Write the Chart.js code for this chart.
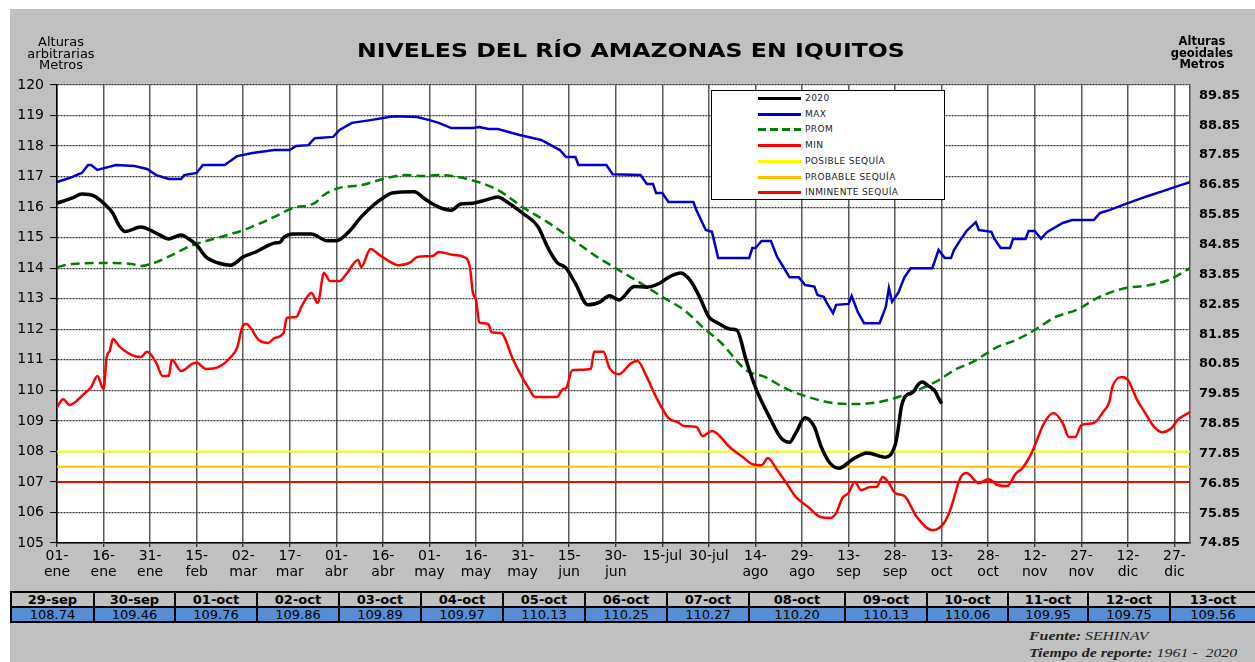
<!DOCTYPE html>
<html>
<head>
<meta charset="utf-8">
<script src="https://cdn.jsdelivr.net/npm/chart.js@4.4.0/dist/chart.umd.min.js"></script>
<style>
  body { margin: 0; background: #fff; width: 1255px; height: 662px; overflow: hidden; font-family: "DejaVu Sans", Arial, sans-serif; }
  #marco { position: absolute; left: 10px; top: 9px; width: 1245px; height: 653px; background: #c0c0c0; }
  #area { position: absolute; left: 57px; top: 85px; width: 1133px; height: 458px; background: #fff; }
  #grafico { position: absolute; left: 0; top: 0; }
  #titulo { position: absolute; left: 4px; width: 1255px; top: 40px; text-align: center; font-weight: bold; font-size: 20px; line-height: 20px; white-space: nowrap; transform: scaleX(1.18); transform-origin: 631px 0; }
  #ejeIzq { position: absolute; left: 0; width: 122px; top: 36px; text-align: center; font-size: 13px; line-height: 11.5px; }
  #ejeDer { position: absolute; left: 1152px; width: 100px; top: 36px; text-align: center; font-size: 11.5px; line-height: 11.5px; font-weight: bold; }
  #leyenda { position: absolute; left: 711px; top: 90px; width: 232px; height: 108px; background: #fff; border: 1px solid #000; }
  #leyenda .fila { position: absolute; left: 0; height: 12px; width: 232px; }
  #leyenda .linea { position: absolute; left: 46px; top: 5px; width: 43px; height: 3px; }
  #leyenda .texto { position: absolute; left: 93px; top: 0; font-size: 9px; line-height: 12px; letter-spacing: 0.4px; white-space: nowrap; color: #222; }
  #tabla { position: absolute; left: 10px; top: 591px; border-collapse: collapse; table-layout: fixed; }
  #tabla td { border: 2px solid #000; padding: 0; text-align: center; font-size: 13px; height: 13px; line-height: 13px; overflow: hidden; white-space: nowrap; }
  #tabla tr.fechas td { font-weight: bold; background: #c0c0c0; }
  #tabla tr.valores td { background: #558ed5; }
  #fuente { position: absolute; left: 1029px; top: 627px; font-family: "Liberation Serif", "Times New Roman", serif; font-style: italic; font-size: 13px; line-height: 17px; white-space: nowrap; color: #222; transform: scaleX(1.22); transform-origin: 0 0; }
</style>
</head>
<body>
<div id="marco"></div>
<div id="area"></div>
<canvas id="grafico" width="1255" height="590"></canvas>
<div id="titulo">NIVELES DEL RÍO AMAZONAS EN IQUITOS</div>
<div id="ejeIzq">Alturas<br>arbitrarias<br>Metros</div>
<div id="ejeDer">Alturas<br>geoidales<br>Metros</div>
<div id="leyenda"></div>
<table id="tabla"></table>
<div id="fuente"><b>Fuente:</b> SEHINAV<br><b>Tiempo de reporte:</b> 1961 -&nbsp; 2020</div>

<script>
// dias desde el 01-ene (0) hasta el 31-dic (365)
const diasX = [0, 15, 30, 45, 60, 75, 90, 105, 120, 135, 150, 165, 180, 195, 210, 225, 240, 255, 270, 285, 300, 315, 330, 345, 360];
const etiquetasX = [
  ["01-", "ene"], ["16-", "ene"], ["31-", "ene"], ["15-", "feb"], ["02-", "mar"], ["17-", "mar"], ["01-", "abr"],
  ["16-", "abr"], ["01-", "may"], ["16-", "may"], ["31-", "may"], ["15-", "jun"], ["30-", "jun"], "15-jul", "30-jul",
  ["14-", "ago"], ["29-", "ago"], ["13-", "sep"], ["28-", "sep"], ["13-", "oct"], ["28-", "oct"], ["12-", "nov"],
  ["27-", "nov"], ["12-", "dic"], ["27-", "dic"]
];
const etiquetasGeo = ["74.85", "75.85", "76.85", "77.85", "78.85", "79.85", "80.85", "81.85", "82.85", "83.85", "84.85", "85.85", "86.85", "87.85", "88.85", "89.85"];

// ultimos 15 dias (tabla inferior)
const tablaFechas = ["29-sep", "30-sep", "01-oct", "02-oct", "03-oct", "04-oct", "05-oct", "06-oct", "07-oct", "08-oct", "09-oct", "10-oct", "11-oct", "12-oct", "13-oct"];
const tablaDias = [271, 272, 273, 274, 275, 276, 277, 278, 279, 280, 281, 282, 283, 284, 285];
const tablaNiveles = [108.74, 109.46, 109.76, 109.86, 109.89, 109.97, 110.13, 110.25, 110.27, 110.20, 110.13, 110.06, 109.95, 109.75, 109.56];

// 2020
const dias2020 = [0, 5, 8, 12, 15, 18, 20, 22, 27, 30, 33, 36, 40, 42, 45, 48, 52, 56, 60, 64, 70, 72, 73, 76, 82, 87, 90, 94, 98, 102, 105, 108, 115, 119, 123, 127, 130, 134, 138, 142, 145, 150, 155, 158, 161, 164, 167, 171, 175, 178, 181, 186, 190, 194, 197, 201, 204, 207, 210, 213, 217, 219, 222, 225, 230, 233, 236, 238, 241, 244, 246, 249, 252, 256, 261, 267, 270];
const niveles2020 = [116.13, 116.30, 116.43, 116.36, 116.13, 115.80, 115.40, 115.20, 115.35, 115.25, 115.09, 114.96, 115.09, 114.99, 114.76, 114.37, 114.17, 114.10, 114.37, 114.53, 114.82, 114.86, 115.00, 115.12, 115.12, 114.90, 114.90, 115.19, 115.68, 116.07, 116.30, 116.46, 116.50, 116.23, 116.00, 115.90, 116.10, 116.13, 116.23, 116.33, 116.17, 115.80, 115.35, 114.70, 114.20, 114.00, 113.50, 112.80, 112.90, 113.10, 112.96, 113.40, 113.38, 113.50, 113.70, 113.84, 113.60, 113.06, 112.40, 112.20, 112.00, 111.97, 110.99, 110.10, 109.03, 108.47, 108.30, 108.60, 109.10, 108.80, 108.20, 107.62, 107.45, 107.72, 107.95, 107.81, 108.20];

// maximo historico
const diasMax = [0, 3, 5, 7, 8, 10, 11, 13, 19, 25, 29, 32, 36, 40, 41, 45, 47, 54, 58, 63, 70, 75, 77, 81, 83, 89, 91, 95, 101, 107, 109, 116, 120, 123, 127, 134, 136, 139, 142, 149, 156, 162, 164, 167, 168, 177, 179, 188, 190, 192, 193, 195, 197, 205, 206, 209, 211, 213, 223, 224, 225, 227, 230, 232, 234, 236, 239, 241, 244, 245, 247, 248, 250, 251, 255, 256, 258, 260, 265, 267, 268, 269, 271, 273, 275, 282, 284, 286, 288, 289, 291, 293, 296, 297, 301, 302, 304, 307, 308, 312, 313, 315, 317, 319, 324, 327, 334, 336, 339, 345, 351, 357, 361, 365];
const nivelesMax = [116.82, 116.92, 116.99, 117.08, 117.12, 117.38, 117.38, 117.22, 117.38, 117.35, 117.25, 117.05, 116.92, 116.92, 117.05, 117.12, 117.38, 117.38, 117.67, 117.77, 117.87, 117.87, 118.00, 118.03, 118.26, 118.30, 118.53, 118.76, 118.85, 118.95, 118.98, 118.95, 118.85, 118.76, 118.59, 118.59, 118.62, 118.56, 118.56, 118.36, 118.20, 117.87, 117.64, 117.64, 117.38, 117.38, 117.08, 117.05, 116.76, 116.76, 116.46, 116.46, 116.17, 116.17, 115.90, 115.25, 115.19, 114.33, 114.33, 114.66, 114.66, 114.89, 114.89, 114.37, 114.04, 113.70, 113.70, 113.45, 113.40, 113.12, 113.06, 112.86, 112.53, 112.80, 112.83, 113.09, 112.56, 112.20, 112.20, 112.73, 113.35, 112.90, 113.19, 113.70, 114.00, 114.00, 114.60, 114.33, 114.33, 114.60, 114.92, 115.22, 115.51, 115.25, 115.19, 114.96, 114.66, 114.66, 114.96, 114.96, 115.22, 115.22, 114.96, 115.19, 115.48, 115.58, 115.58, 115.81, 115.90, 116.13, 116.35, 116.55, 116.69, 116.82];

// promedio
const diasProm = [0, 5, 14, 24, 27, 32, 37, 43, 48, 55, 61, 65, 70, 76, 83, 86, 91, 98, 105, 112, 118, 123, 131, 142, 150, 158, 165, 174, 180, 188, 195, 202, 208, 214, 222, 228, 234, 240, 249, 258, 265, 271, 277, 284, 289, 295, 303, 309, 316, 321, 329, 335, 343, 352, 358, 365];
const nivelesProm = [114.04, 114.14, 114.17, 114.14, 114.07, 114.20, 114.43, 114.73, 114.89, 115.09, 115.28, 115.45, 115.68, 115.97, 116.13, 116.40, 116.63, 116.72, 116.92, 117.05, 117.02, 117.05, 116.95, 116.56, 116.00, 115.51, 115.02, 114.37, 114.00, 113.51, 113.06, 112.63, 112.07, 111.55, 110.66, 110.44, 110.10, 109.85, 109.60, 109.55, 109.62, 109.78, 110.00, 110.33, 110.66, 110.93, 111.42, 111.65, 112.04, 112.37, 112.66, 113.02, 113.32, 113.45, 113.61, 114.00];

// minimo historico
const diasMin = [0, 2, 4, 9, 11, 13, 15, 16, 17, 18, 20, 24, 27, 29, 32, 34, 36, 37, 40, 44, 45, 48, 52, 56, 58, 60, 61, 65, 68, 70, 73, 74, 77, 79, 82, 84, 86, 88, 91, 93, 97, 98, 101, 104, 110, 114, 116, 121, 123, 128, 131, 133, 134, 135, 136, 137, 139, 140, 143, 147, 150, 152, 154, 161, 163, 164, 166, 172, 173, 176, 178, 181, 185, 187, 190, 193, 197, 200, 202, 206, 208, 211, 217, 221, 224, 227, 229, 232, 235, 238, 242, 246, 249, 251, 253, 255, 257, 259, 262, 264, 266, 268, 270, 273, 277, 282, 286, 288, 291, 293, 297, 300, 303, 306, 309, 311, 314, 318, 321, 324, 326, 328, 330, 334, 337, 339, 340, 343, 345, 348, 351, 353, 356, 359, 361, 365];
const nivelesMin = [109.45, 109.71, 109.52, 109.91, 110.10, 110.47, 110.04, 111.09, 111.29, 111.68, 111.45, 111.16, 111.09, 111.26, 110.90, 110.47, 110.47, 111.00, 110.63, 110.89, 110.90, 110.70, 110.76, 111.09, 111.39, 112.14, 112.17, 111.65, 111.55, 111.71, 111.88, 112.37, 112.40, 112.79, 113.19, 112.86, 113.84, 113.58, 113.58, 113.78, 114.27, 114.04, 114.63, 114.43, 114.10, 114.20, 114.37, 114.40, 114.53, 114.43, 114.37, 114.04, 113.19, 112.96, 112.24, 112.20, 112.17, 111.90, 111.88, 110.99, 110.40, 110.07, 109.78, 109.78, 110.04, 110.07, 110.66, 110.70, 111.26, 111.26, 110.73, 110.53, 110.89, 110.96, 110.44, 109.78, 109.09, 108.96, 108.83, 108.80, 108.50, 108.67, 108.11, 107.81, 107.58, 107.55, 107.78, 107.39, 106.96, 106.51, 106.18, 105.85, 105.82, 105.98, 106.47, 106.64, 107.00, 106.73, 106.83, 106.83, 107.16, 106.96, 106.64, 106.54, 105.85, 105.42, 105.69, 106.15, 107.13, 107.29, 106.96, 107.09, 106.90, 106.86, 107.29, 107.45, 107.95, 108.93, 109.26, 108.93, 108.47, 108.47, 108.86, 108.93, 109.29, 109.62, 110.11, 110.44, 110.34, 109.68, 109.19, 108.86, 108.63, 108.76, 109.03, 109.29];

// niveles de alerta
const umbralNombres = ["POSIBLE SEQUÍA", "PROBABLE SEQUÍA", "INMINENTE SEQUÍA"];
const umbralNiveles = [108, 107.5, 107];
const umbralDias = [0, 365];

function puntos(dias, valores) {
  return dias.map((d, i) => ({ x: d, y: valores[i] }));
}

const serie2020 = puntos(dias2020, niveles2020).concat(puntos(tablaDias, tablaNiveles));
const coloresUmbral = ["#ffff00", "#ffc000", "#ff0000"];

const datasets = [
  { label: "2020", data: serie2020, borderColor: "#000", borderWidth: 3.5, cubicInterpolationMode: "monotone" },
  { label: "MAX", data: puntos(diasMax, nivelesMax), borderColor: "#0000cc", borderWidth: 2.5 },
  { label: "PROM", data: puntos(diasProm, nivelesProm), borderColor: "#008000", borderWidth: 2.5, borderDash: [9, 5], cubicInterpolationMode: "monotone" },
  { label: "MIN", data: puntos(diasMin, nivelesMin), borderColor: "#ff0000", borderWidth: 2.5, cubicInterpolationMode: "monotone" }
];
umbralNombres.forEach((nombre, i) => {
  datasets.push({
    label: nombre,
    data: umbralDias.map((d) => ({ x: d, y: umbralNiveles[i] })),
    borderColor: coloresUmbral[i],
    borderWidth: 2
  });
});
datasets.forEach((ds) => { ds.pointRadius = 0; ds.fill = false; });

const ctx = document.getElementById("grafico").getContext("2d");
const chart = new Chart(ctx, {
  type: "line",
  data: { datasets: datasets },
  options: {
    responsive: false,
    animation: false,
    devicePixelRatio: 1,
    layout: { padding: { top: 85, left: 0, right: 0, bottom: 0 } },
    plugins: { legend: { display: false }, tooltip: { enabled: false } },
    scales: {
      x: {
        type: "linear",
        min: 0,
        max: 365,
        afterBuildTicks: (axis) => { axis.ticks = diasX.map((d) => ({ value: d })); },
        afterFit: (axis) => { axis.height = 47; },
        grid: { display: true, drawOnChartArea: true, color: "#5a5a5a", lineWidth: 1.5, tickLength: 4, tickColor: "#000", tickWidth: 1 },
        border: { color: "#000", width: 1.5 },
        ticks: {
          autoSkip: false,
          maxRotation: 0,
          padding: 2,
          color: "#000",
          font: { family: "DejaVu Sans", size: 14, lineHeight: 1.1 },
          callback: (v, i) => etiquetasX[i]
        }
      },
      y: {
        position: "left",
        min: 105,
        max: 120,
        afterFit: (axis) => { axis.width = 57; },
        grid: { display: true, drawOnChartArea: true, color: "#333", lineWidth: 1.2, tickLength: 7, tickColor: "#000", tickWidth: 1 },
        border: { color: "#000", width: 1.5, dash: [2, 1] },
        ticks: { stepSize: 1, padding: 6, color: "#000", font: { family: "DejaVu Sans", size: 14 } }
      },
      y2: {
        position: "right",
        min: 74.85,
        max: 90.2,
        afterBuildTicks: (axis) => { axis.ticks = etiquetasGeo.map((t) => ({ value: parseFloat(t) })); },
        afterFit: (axis) => { axis.width = 65; },
        grid: { display: false, drawTicks: false },
        border: { display: true, color: "#555", width: 1.5 },
        ticks: {
          padding: 9,
          color: "#000",
          font: { family: "DejaVu Sans", size: 13, weight: "bold" },
          callback: (v, i) => etiquetasGeo[i]
        }
      }
    }
  }
});

// leyenda a partir de las series del grafico
const leyenda = document.getElementById("leyenda");
chart.data.datasets.forEach((ds, i) => {
  const fila = document.createElement("div");
  fila.className = "fila";
  fila.style.top = (1 + i * 15.7) + "px";
  const linea = document.createElement("span");
  linea.className = "linea";
  if (ds.borderDash) {
    linea.style.background = "repeating-linear-gradient(90deg, " + ds.borderColor + " 0 8px, transparent 8px 12px)";
  } else {
    linea.style.background = ds.borderColor;
  }
  const texto = document.createElement("span");
  texto.className = "texto";
  texto.innerText = ds.label;
  fila.appendChild(linea);
  fila.appendChild(texto);
  leyenda.appendChild(fila);
});

// tabla de los ultimos dias
const anchoCols = [83, 81, 82, 82, 82, 82, 82, 82, 82, 96, 82, 81, 80, 82, 86];
const tabla = document.getElementById("tabla");
const colgroup = document.createElement("colgroup");
anchoCols.forEach((w) => {
  const col = document.createElement("col");
  col.style.width = w + "px";
  colgroup.appendChild(col);
});
tabla.appendChild(colgroup);
const filaFechas = document.createElement("tr");
filaFechas.className = "fechas";
const filaValores = document.createElement("tr");
filaValores.className = "valores";
tablaFechas.forEach((f, i) => {
  const c1 = document.createElement("td");
  c1.innerText = f;
  filaFechas.appendChild(c1);
  const c2 = document.createElement("td");
  c2.innerText = tablaNiveles[i].toFixed(2);
  filaValores.appendChild(c2);
});
tabla.appendChild(filaFechas);
tabla.appendChild(filaValores);
tabla.style.width = anchoCols.reduce((a, b) => a + b, 0) + "px";
</script>
</body>
</html>
